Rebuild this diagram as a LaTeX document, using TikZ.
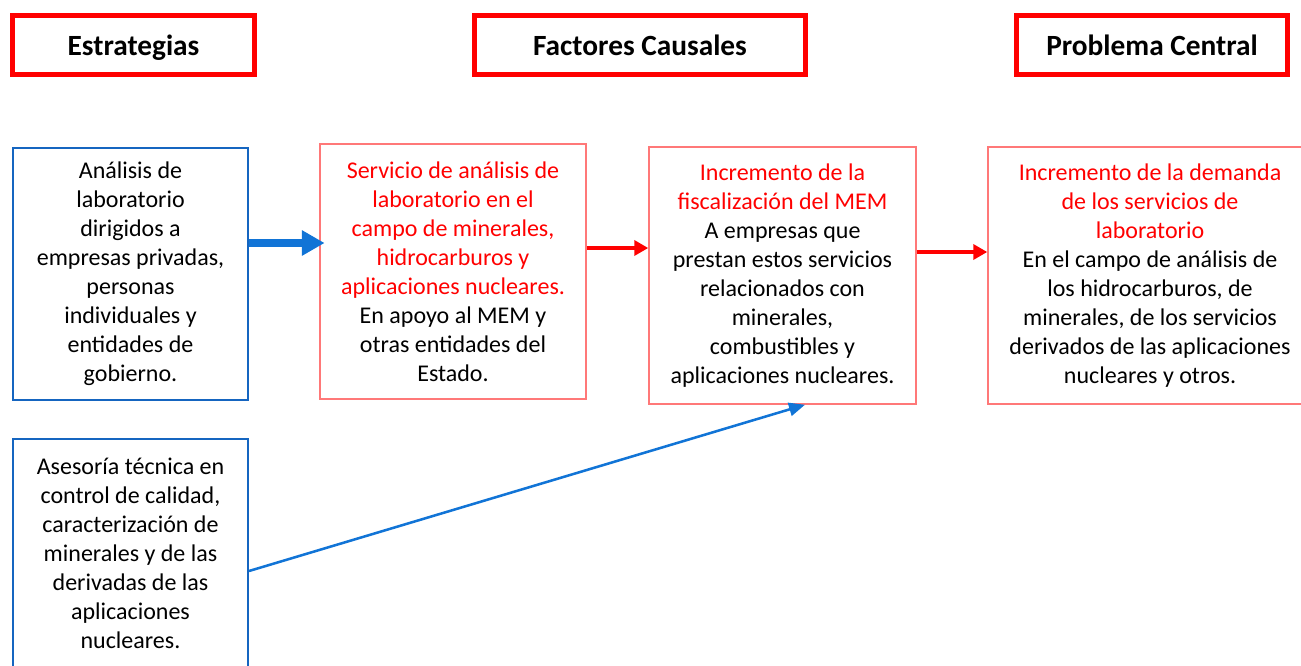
\documentclass[tikz,border=0pt]{standalone}
\usepackage{fontspec}
\setmainfont{Carlito}
\usetikzlibrary{arrows.meta}
\definecolor{boxred}{RGB}{255,120,120}
\definecolor{boxblue}{RGB}{21,101,192}
\definecolor{arrowblue}{RGB}{17,116,214}
\begin{document}
\begin{tikzpicture}[x=0.75pt,y=-0.75pt,
  header/.style={draw=red, line width=3.75pt, minimum height=44.25pt, inner sep=0pt,
    text height=17pt, text depth=2pt, font=\fontsize{22}{26}\selectfont\bfseries},
  strat/.style={draw=boxblue, line width=1.5pt, minimum width=176.25pt, align=center, inner sep=0pt,
    font=\fontsize{18}{21.75}\selectfont},
  cause/.style={draw=boxred, line width=1.1pt, align=center, inner sep=0pt,
    font=\fontsize{18}{21.75}\selectfont},
  bigarrow/.style={arrowblue, line width=6pt, shorten >=-4pt, -{Triangle[length=17pt,width=18pt]}},
  redarrow/.style={red, line width=2.6pt, -{Triangle[length=10.5pt,width=11.25pt]}},
  thinarrow/.style={arrowblue, line width=1.9pt, -{Triangle[length=12pt,width=10pt]}}]
  \useasboundingbox (0,0) rectangle (1301,665);
  \node[header, minimum width=181.5pt] (hestr) at (133.5,45) {Estrategias};
  \node[header, minimum width=248.25pt] (hfact) at (640,45) {Factores Causales};
  \node[header, minimum width=203.25pt] (hprob) at (1152,45) {Problema Central};
  \node[strat, minimum height=189pt] (analisis) at (130.5,274) {An\'alisis de\\laboratorio\\dirigidos a\\empresas privadas,\\personas\\individuales y\\entidades de\\gobierno.};
  \node[strat, minimum height=171pt] (asesoria) at (130.5,553) {Asesor\'ia t\'ecnica en\\control de calidad,\\caracterizaci\'on de\\minerales y de las\\derivadas de las\\aplicaciones\\nucleares.};
  \node[cause, minimum width=199.5pt, minimum height=191.25pt] (servicio) at (453,271.5) {\textcolor{red}{Servicio de an\'alisis de}\\\textcolor{red}{laboratorio en el}\\\textcolor{red}{campo de minerales,}\\\textcolor{red}{hidrocarburos y}\\\textcolor{red}{aplicaciones nucleares.}\\En apoyo al MEM y\\otras entidades del\\Estado.};
  \node[cause, minimum width=200.25pt, minimum height=192.75pt] (fiscal) at (782.5,275.5) {\textcolor{red}{Incremento de la}\\\textcolor{red}{fiscalizaci\'on del MEM}\\A empresas que\\prestan estos servicios\\relacionados con\\minerales,\\combustibles y\\aplicaciones nucleares.};
  \node[cause, minimum width=243pt, minimum height=192.75pt] (demanda) at (1150,275.5) {\textcolor{red}{Incremento de la demanda}\\\textcolor{red}{de los servicios de}\\\textcolor{red}{laboratorio}\\En el campo de an\'alisis de\\los hidrocarburos, de\\minerales, de los servicios\\derivados de las aplicaciones\\nucleares y otros.};
  \draw[bigarrow] (analisis.east |- 0,243) -- (servicio.west |- 0,243);
  \draw[redarrow] (servicio.east |- 0,248) -- (fiscal.west |- 0,248);
  \draw[redarrow] (fiscal.east |- 0,252) -- (demanda.west |- 0,252);
  \draw[thinarrow] (asesoria.east |- 0,571) -- (fiscal.south -| 805,0);
\end{tikzpicture}
\end{document}
